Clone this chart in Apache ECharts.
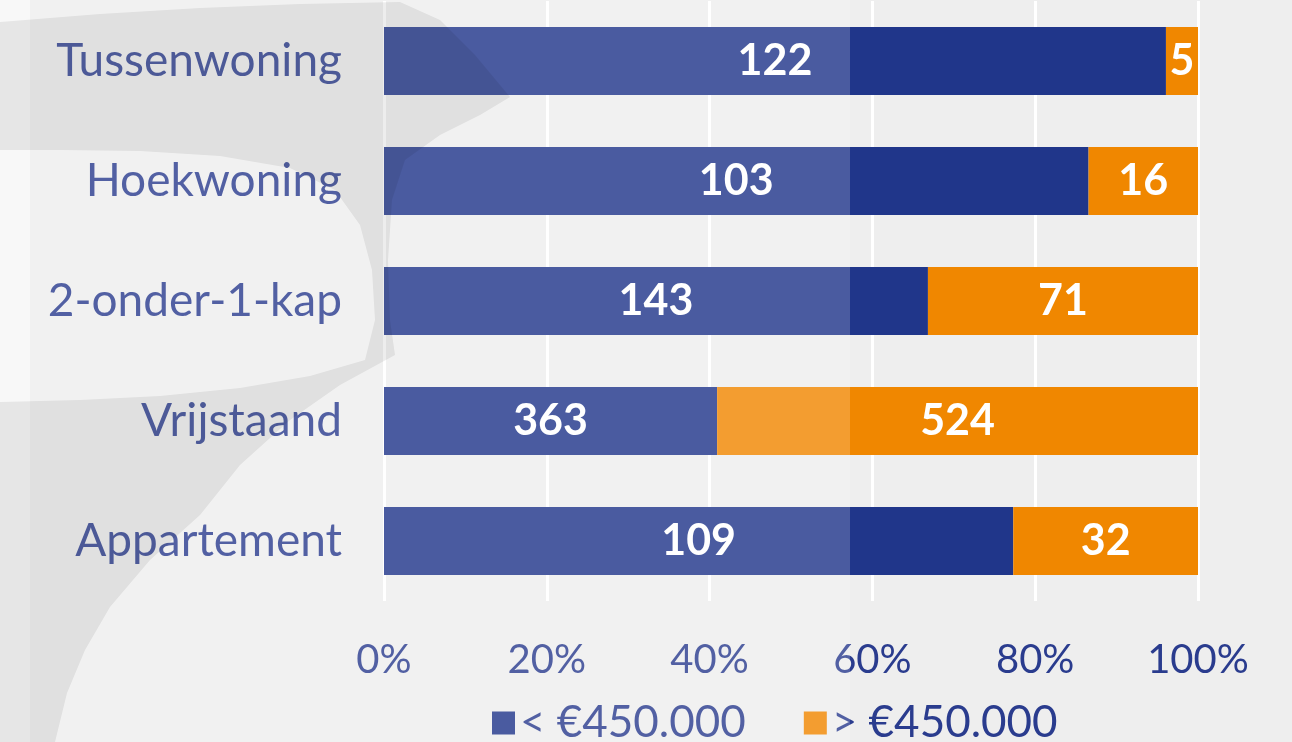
<!DOCTYPE html>
<html>
<head>
<meta charset="utf-8">
<script src="https://cdn.jsdelivr.net/npm/echarts@6/dist/echarts.min.js"></script>
<style>
  html, body { margin: 0; padding: 0; background: #eeeeee; }
  #chart { width: 1292px; height: 742px; }
</style>
</head>
<body>
<div id="chart"></div>
<script>
// woningtypes (van boven naar beneden)
var categories = ['Tussenwoning', 'Hoekwoning', '2-onder-1-kap', 'Vrijstaand', 'Appartement'];
// aantallen per prijsklasse
var onder450 = [122, 103, 143, 363, 109];
var boven450 = [5, 16, 71, 524, 32];
var seriesNames = ['< €450.000', '> €450.000'];

var textColor = '#2a3c8e';
var font = 'Lato';

// 100% gestapeld: aandeel per woningtype
function share(list, i) {
    return list[i] / (onder450[i] + boven450[i]) * 100;
}
var onderPct = [], bovenPct = [];
for (var i = 0; i < categories.length; i++) {
    onderPct.push(share(onder450, i));
    bovenPct.push(share(boven450, i));
}

// grijze zwaai in de achtergrond (decoratie)
var zwaai = [
    [0, 22], [100, 14], [200, 8], [300, 4], [400, 2], [440, 20], [475, 55], [510, 97],
    [480, 115], [440, 135], [405, 160], [392, 200], [388, 260], [390, 320], [395, 355],
    [340, 385], [290, 420], [240, 465], [200, 515], [150, 560], [110, 607], [85, 650],
    [67, 693], [55, 742],
    [0, 742], [0, 402],
    [80, 400], [160, 396], [240, 388], [310, 376], [365, 360],
    [375, 320], [372, 270], [360, 225], [335, 190], [290, 168],
    [220, 156], [140, 151], [60, 150], [0, 150]
];

var myChart = echarts.init(document.getElementById('chart'));

function barLabel(counts) {
    return {
        show: true,
        position: 'inside',
        color: '#ffffff',
        fontFamily: font,
        fontWeight: 'bold',
        fontSize: 43,
        formatter: function (p) { return counts[p.dataIndex]; }
    };
}

var options = {
    backgroundColor: '#eeeeee',
    animation: false,
    grid: { left: 384, right: 94, top: 1, height: 600 },
    legend: {
        data: seriesNames,
        left: 487,
        top: 696,
        itemWidth: 23,
        itemHeight: 23,
        itemGap: 58,
        icon: 'rect',
        textStyle: { color: textColor, fontFamily: font, fontSize: 44 }
    },
    xAxis: {
        type: 'value',
        min: 0,
        max: 100,
        interval: 20,
        axisLine: { show: false },
        axisTick: { show: false },
        splitLine: { show: true, lineStyle: { color: '#ffffff', width: 3 } },
        axisLabel: {
            margin: 39,
            color: textColor,
            fontFamily: font,
            fontSize: 40,
            lineHeight: 40,
            formatter: function (v) { return v + '%'; }
        }
    },
    yAxis: {
        type: 'category',
        inverse: true,
        data: categories,
        axisLine: { show: false },
        axisTick: { show: false },
        axisLabel: {
            margin: 42,
            color: textColor,
            fontFamily: font,
            fontSize: 46
        }
    },
    series: [{
        name: seriesNames[0],
        type: 'bar',
        stack: 'totaal',
        barWidth: 68,
        itemStyle: { color: '#20368a' },
        label: barLabel(onder450),
        data: onderPct
    }, {
        name: seriesNames[1],
        type: 'bar',
        stack: 'totaal',
        barWidth: 68,
        itemStyle: { color: '#f08700' },
        label: barLabel(boven450),
        data: bovenPct
    }],
    // achtergrondbeeld: lichte strook links, witte waas en grijze zwaai
    graphic: {
        elements: [{
            type: 'rect', silent: true, z: 100,
            shape: { x: 0, y: 0, width: 30, height: 742 },
            style: { fill: '#f8f8f8' }
        }, {
            type: 'rect', silent: true, z: 101,
            shape: { x: 30, y: 0, width: 820, height: 742 },
            style: { fill: 'rgba(255,255,255,0.19)' }
        }, {
            type: 'polygon', silent: true, z: 102,
            shape: { points: zwaai },
            style: { fill: 'rgba(0,0,0,0.07)' }
        }]
    }
};

myChart.setOption(options, true);
</script>
</body>
</html>
